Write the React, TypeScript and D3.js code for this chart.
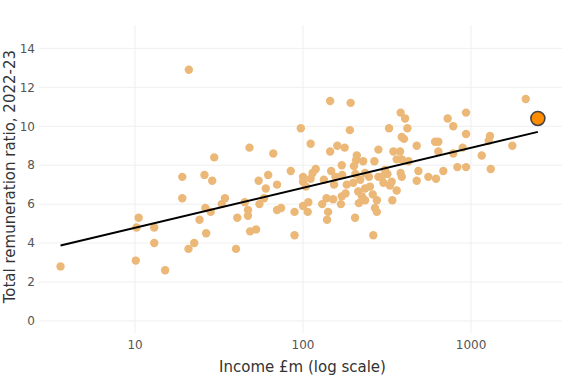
import React from "react";
import * as d3 from "d3";

const incomes: number[] = [
  3.6, 10.1, 10.2, 10.5, 13.0, 13.0, 15.1, 19.1, 19.1, 29.6, 25.9, 28.8, 34.3, 32.8, 26.2, 28.2, 24.2, 26.5, 22.5, 20.8, 39.9, 40.6, 20.9,
  145, 192, 97, 190, 111, 48, 66.5, 145, 160, 177, 209, 207, 228, 201, 266, 281,
  45, 47, 47, 48.4, 52.5, 54.4, 62, 60, 70, 55, 58.6, 70, 74, 84.5, 89, 89, 100, 100, 104, 111, 119,
  114, 100, 107.5, 106.6, 130, 138, 141, 139, 133, 147, 156, 153, 171, 170, 151, 170, 168, 179, 182, 199, 204, 213, 224, 234, 219, 250, 215, 234, 268, 262, 275, 260, 275, 281, 205, 234, 247,
  381, 405, 418, 325, 387, 399, 726, 934, 784, 934, 475, 345, 378, 611, 639, 639, 784, 892, 1297, 1274, 1762, 1158, 2117, 1310, 934, 829, 684, 619, 557, 486, 475, 424, 387, 361, 307, 318, 294, 381, 387, 337, 329, 361, 340, 301,
];

const ratios: number[] = [
  2.8, 3.1, 4.8, 5.3, 4.8, 4.0, 2.6, 7.4, 6.3, 8.4, 7.5, 7.2, 6.3, 6.0, 5.8, 5.6, 5.2, 4.5, 4.0, 3.7, 3.7, 5.3, 12.9,
  11.3, 11.2, 9.9, 9.8, 9.1, 8.9, 8.6, 8.7, 9.0, 8.9, 8.5, 8.25, 8.2, 7.95, 8.2, 8.8,
  6.1, 5.7, 5.4, 4.6, 4.7, 7.2, 7.5, 6.8, 7.0, 6.0, 6.3, 5.7, 5.8, 7.7, 5.6, 4.4, 7.4, 7.15, 6.9, 7.3, 7.8,
  7.6, 5.9, 6.1, 5.6, 6.0, 6.3, 5.6, 5.2, 7.25, 7.7, 7.4, 7.0, 7.5, 8.0, 6.25, 6.4, 6.0, 6.55, 7.0, 7.1, 5.3, 6.65, 6.4, 6.8, 7.25, 6.9, 6.05, 6.2, 5.8, 4.4, 6.2, 6.5, 5.6, 7.4, 7.55, 7.6, 7.4,
  10.7, 10.4, 9.9, 9.9, 9.45, 9.35, 10.4, 10.7, 10.0, 9.6, 9.0, 8.7, 8.7, 9.2, 9.2, 8.7, 8.6, 8.9, 9.5, 9.25, 9.0, 8.5, 11.4, 7.8, 7.9, 7.9, 7.7, 7.3, 7.4, 7.7, 7.2, 8.2, 8.3, 8.3, 7.75, 7.55, 7.4, 7.6, 7.4, 7.15, 6.95, 6.7, 6.2, 7.1,
];

const highlightIncome: number[] = [2500];
const highlightRatio: number[] = [10.4];

const trendIncome: number[] = [3.6, 2500];
const trendRatio: number[] = [3.87, 9.71];

const yTicks: number[] = [0, 2, 4, 6, 8, 10, 12, 14];
const xTicks: number[] = [10, 100, 1000];
const xTickLabels: string[] = ["10", "100", "1000"];

const W = 569;
const H = 376;
const left = 39;
const right = 562;
const top = 25;
const bottom = 333;
const FONT = "'DejaVu Sans', Verdana, sans-serif";

export default function App() {
  const x = d3.scaleLog().domain([2.68, 3480]).range([left, right]);
  const y = d3.scaleLinear().domain([-0.62, 15.2]).range([bottom, top]);
  const line = d3
    .line<number>()
    .x((_, i) => x(trendIncome[i]))
    .y((d) => y(d));

  return (
    <svg
      width={W}
      height={H}
      style={{ position: "absolute", left: 0, top: 0, background: "#fff" }}
      fontFamily={FONT}
    >
      <rect x={0} y={0} width={W} height={H} fill="#fff" />
      {xTicks.map((t) => (
        <line key={"vx" + t} x1={x(t)} x2={x(t)} y1={top} y2={bottom} stroke="#efefef" strokeWidth={1} />
      ))}
      {yTicks.map((t) => (
        <line key={"hy" + t} x1={left} x2={right} y1={y(t)} y2={y(t)} stroke="#efefef" strokeWidth={1} />
      ))}
      {yTicks.map((t) => (
        <text key={"ty" + t} x={35} y={y(t)} dy="0.36em" textAnchor="end" fontSize={12} fill="#555">
          {t}
        </text>
      ))}
      {xTicks.map((t, i) => (
        <text key={"tx" + t} x={x(t)} y={349} textAnchor="middle" fontSize={12} fill="#555">
          {xTickLabels[i]}
        </text>
      ))}
      {incomes.map((v, i) => (
        <circle key={"p" + i} cx={x(v)} cy={y(ratios[i])} r={4.2} fill="#ECB878" />
      ))}
      <path d={line(trendRatio) || ""} fill="none" stroke="#000" strokeWidth={2} />
      {highlightIncome.map((v, i) => (
        <circle key={"h" + i} cx={x(v)} cy={y(highlightRatio[i])} r={7} fill="#FF8C00" stroke="#444" strokeWidth={1.6} />
      ))}
      <text x={(left + right) / 2 + 2} y={372} textAnchor="middle" fontSize={15} fill="#333">
        Income £m (log scale)
      </text>
      <text
        transform={`translate(15, ${(y(0) + y(14)) / 2 - 8}) rotate(-90)`}
        textAnchor="middle"
        fontSize={15}
        fill="#333"
      >
        Total remuneration ratio, 2022-23
      </text>
    </svg>
  );
}
